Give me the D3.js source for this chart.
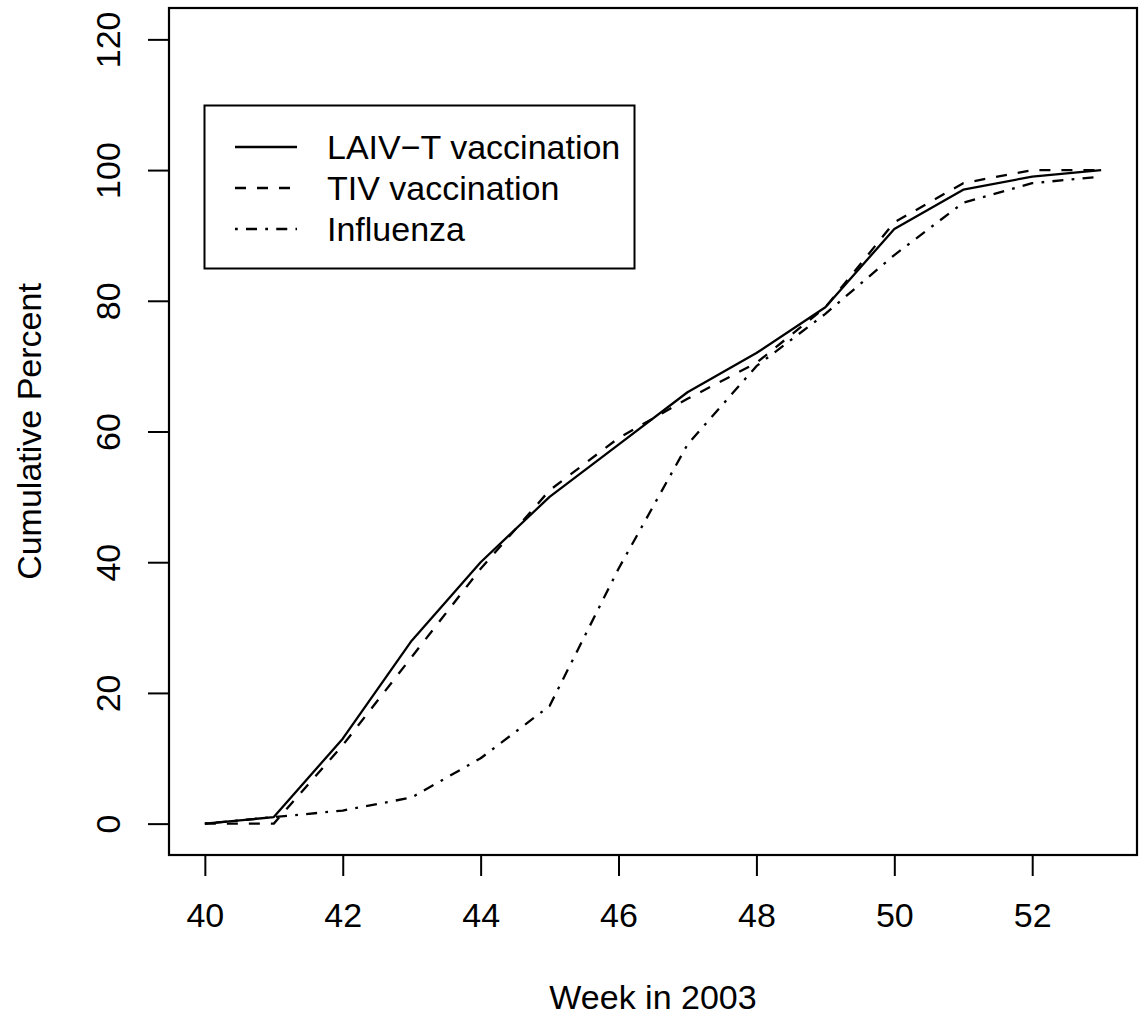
<!DOCTYPE html>
<html>
<head>
<meta charset="utf-8">
<script src="https://cdn.jsdelivr.net/npm/d3@7"></script>
<style>
  html, body { margin: 0; padding: 0; background: #fff; }
  svg { display: block; font-family: "Liberation Sans", Arial, Helvetica, sans-serif; }
</style>
</head>
<body>
<svg id="chart" width="1139" height="1018"></svg>
<script>
// ---- data ----
const weeks = [40, 41, 42, 43, 44, 45, 46, 47, 48, 49, 50, 51, 52, 53];
const laivT = [0, 1, 13, 28, 40, 50, 58, 66, 72, 79, 91, 97, 99, 100];
const tiv = [0, 0, 12, 25.5, 39, 51, 59, 65, 70.5, 79, 92, 98, 100, 100];
const influenza = [0, 1, 2, 4, 10, 18, 39, 58, 70, 78, 87, 95, 98, 99];
const xTicks = [40, 42, 44, 46, 48, 50, 52];
const yTicks = [0, 20, 40, 60, 80, 100, 120];
const seriesNames = ["LAIV\u2212T vaccination", "TIV vaccination", "Influenza"];

const series = [
  { name: seriesNames[0], values: laivT, dash: null },
  { name: seriesNames[1], values: tiv, dash: "11,11" },
  { name: seriesNames[2], values: influenza, dash: "2.75,8.25,11,8.25" }
];

// ---- layout ----
const svg = d3.select("#chart");
const pL = 169, pR = 1137, pT = 8, pB = 855;
const fs = 34;

const x = d3.scaleLinear().domain([39.48, 53.52]).range([pL, pR]);
const y = d3.scaleLinear().domain([-4.8, 124.8]).range([pB, pT]);

// box
svg.append("rect")
  .attr("x", pL).attr("y", pT)
  .attr("width", pR - pL).attr("height", pB - pT)
  .attr("fill", "none").attr("stroke", "#000").attr("stroke-width", 2.2);

// x axis
const xAxis = svg.append("g")
  .attr("transform", `translate(0,${pB})`)
  .call(d3.axisBottom(x).tickValues(xTicks).tickSize(21).tickPadding(27).tickFormat(d3.format("d")));
xAxis.select(".domain").remove();
xAxis.selectAll(".tick line").attr("stroke", "#000").attr("stroke-width", 2);
xAxis.selectAll(".tick text").attr("font-size", fs).attr("fill", "#000")
  .attr("font-family", "Liberation Sans, Arial, sans-serif");

// y axis
const yAxis = svg.append("g")
  .attr("transform", `translate(${pL},0)`)
  .call(d3.axisLeft(y).tickValues(yTicks).tickSize(21).tickFormat(d3.format("d")));
yAxis.select(".domain").remove();
yAxis.selectAll(".tick line").attr("stroke", "#000").attr("stroke-width", 2);
yAxis.selectAll(".tick text").remove();
yAxis.selectAll(".tick").append("text")
  .attr("transform", "translate(-49,0) rotate(-90)")
  .attr("text-anchor", "middle")
  .attr("font-size", fs)
  .attr("fill", "#000")
  .attr("font-family", "Liberation Sans, Arial, sans-serif")
  .text(d => d);

// axis titles
svg.append("text")
  .attr("x", (pL + pR) / 2).attr("y", 1009)
  .attr("text-anchor", "middle").attr("font-size", fs)
  .text("Week in 2003");
svg.append("text")
  .attr("transform", `translate(41,${(pT + pB) / 2}) rotate(-90)`)
  .attr("text-anchor", "middle").attr("font-size", fs)
  .text("Cumulative Percent");

// lines
const line = d3.line().x((d, i) => x(weeks[i])).y(d => y(d));
series.forEach(s => {
  svg.append("path")
    .datum(s.values)
    .attr("d", line)
    .attr("fill", "none")
    .attr("stroke", "#000")
    .attr("stroke-width", 2.3)
    .attr("stroke-linejoin", "round")
    .attr("stroke-dasharray", s.dash);
});

// legend
const lg = svg.append("g");
lg.append("rect")
  .attr("x", 204.5).attr("y", 105.5).attr("width", 430).attr("height", 163)
  .attr("fill", "#fff").attr("stroke", "#000").attr("stroke-width", 2);
series.forEach((s, i) => {
  const cy = 147 + i * 41;
  lg.append("line")
    .attr("x1", 235).attr("x2", 297).attr("y1", cy).attr("y2", cy)
    .attr("stroke", "#000").attr("stroke-width", 2.3)
    .attr("stroke-dasharray", s.dash);
  lg.append("text")
    .attr("x", 327).attr("y", cy + 12)
    .attr("font-size", fs)
    .text(s.name);
});
</script>
</body>
</html>
